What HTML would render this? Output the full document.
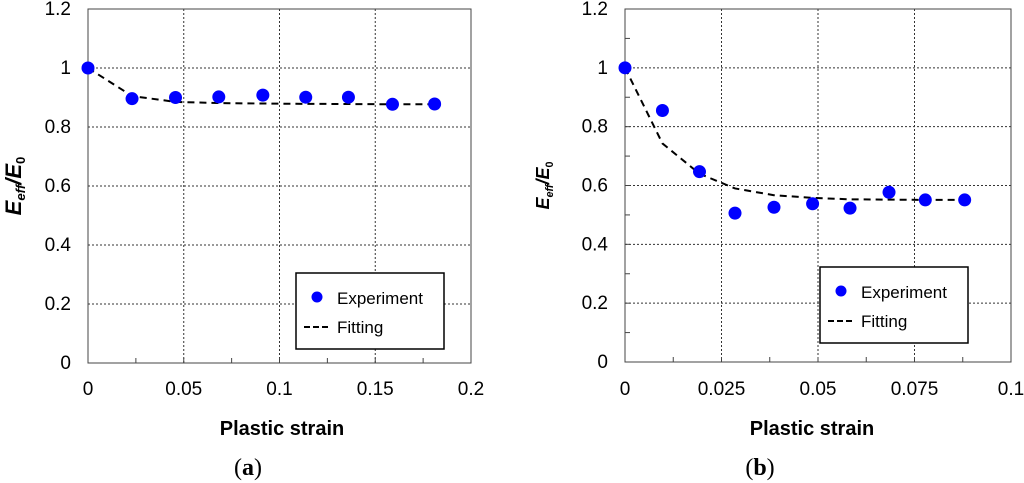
<!DOCTYPE html>
<html><head><meta charset="utf-8"><style>
body{margin:0;background:#fff;width:1024px;height:483px;overflow:hidden}
svg{display:block}
</style></head><body>
<svg id="chart" width="1024" height="483" xmlns="http://www.w3.org/2000/svg" font-family="Liberation Sans, Arial, sans-serif"></svg>
<script>
// Panel (a) data
const aExpX=[0,0.023,0.0457,0.0683,0.0913,0.1137,0.136,0.159,0.181];
const aExpY=[1.0,0.896,0.900,0.902,0.908,0.901,0.901,0.877,0.878];
const aFitX=[0,0.023,0.0457,0.07,0.1,0.13,0.16,0.181];
const aFitY=[1.0,0.905,0.885,0.881,0.879,0.878,0.877,0.877];
const aXTicks=["0","0.05","0.1","0.15","0.2"];
// Panel (b) data
const bExpX=[0,0.0097,0.0193,0.0285,0.0386,0.0486,0.0583,0.0684,0.0778,0.088];
const bExpY=[1.0,0.855,0.647,0.506,0.526,0.538,0.523,0.577,0.551,0.551];
const bFitX=[0,0.0097,0.0193,0.0285,0.0386,0.0486,0.0583,0.068,0.078,0.088];
const bFitY=[1.0,0.743,0.64,0.59,0.567,0.558,0.553,0.552,0.551,0.551];
const bXTicks=["0","0.025","0.05","0.075","0.1"];
const yTicks=["0","0.2","0.4","0.6","0.8","1","1.2"];

const NS="http://www.w3.org/2000/svg";
const svg=document.getElementById('chart');
function mk(tag,attrs,parent,text){const e=document.createElementNS(NS,tag);for(const k in attrs)e.setAttribute(k,attrs[k]);if(text!==undefined)e.textContent=text;(parent||svg).appendChild(e);return e;}

function panel(p){
  const g=mk('g',{});
  
  
  const sx=v=>p.x0+(p.x1-p.x0)*v/p.xmax;
  const sy=v=>p.y0-(p.y0-p.y1)*v/1.2;
  for(let i=1;i<yTicks.length;i++){const y=sy(i*0.2);
    const l=mk('line',{x1:p.x0,x2:p.x1,y1:y,y2:y,stroke:'#333','stroke-width':1,'stroke-dasharray':'2,2'},g);
    }
  for(let i=1;i<p.xt.length;i++){const x=sx(i*p.xmax/(p.xt.length-1));
    const l=mk('line',{x1:x,x2:x,y1:p.y1,y2:p.y0,stroke:'#333','stroke-width':1,'stroke-dasharray':'2,2'},g);
    }
  const fr=mk('rect',{x:p.x0,y:p.y1,width:p.x1-p.x0,height:p.y0-p.y1,fill:'none',stroke:'#444','stroke-width':1},g);
  
  const nMinor=(p.xt.length-1)*2;
  for(let i=1;i<nMinor;i++){const x=sx(i*p.xmax/nMinor);mk('line',{x1:x,x2:x,y1:p.y0,y2:p.y0-5,stroke:'#444'},g);}
  if(p.minorY){for(let i=0;i<12;i++){const y=sy(i*0.1+0.1);mk('line',{x1:p.x0,x2:p.x0+5,y1:y,y2:y,stroke:'#444'},g);}}
  yTicks.forEach((t,i)=>{const e=mk('text',{x:p.x0-17,y:sy(i*0.2)+6,'text-anchor':'end','font-size':19,fill:'#000'},g,t);
    });
  p.xt.forEach((t,i)=>{const e=mk('text',{x:sx(i*p.xmax/(p.xt.length-1)),y:395,'text-anchor':'middle','font-size':19,fill:'#000'},g,t);
    });
  const pts=p.fx.map((v,i)=>sx(v)+','+sy(p.fy[i])).join(' ');
  const pl=mk('polyline',{points:pts,fill:'none',stroke:'#000','stroke-width':2,'stroke-dasharray':'7,5'},g);
  
  p.ex.forEach((v,i)=>{const c=mk('circle',{cx:sx(v),cy:sy(p.ey[i]),r:6.5,fill:'#0000ff'},g);
    });
  const lg=mk('g',{},g);
  
  mk('rect',{x:p.lx,y:p.ly,width:148,height:76,fill:'#fff',stroke:'#000','stroke-width':1.5},lg);
  mk('circle',{cx:p.lx+21,cy:p.ly+24,r:5.5,fill:'#0000ff'},lg);
  mk('text',{x:p.lx+41,y:p.ly+31,'font-size':17},lg,'Experiment');
  mk('line',{x1:p.lx+8,x2:p.lx+34,y1:p.ly+54,y2:p.ly+54,stroke:'#000','stroke-width':2,'stroke-dasharray':'6,3'},lg);
  mk('text',{x:p.lx+41,y:p.ly+60,'font-size':17},lg,'Fitting');
  const yt=mk('text',{transform:`translate(${p.ytx},${(p.y0+p.y1)/2}) rotate(-90)`,'text-anchor':'middle','font-size':p.ytf,'font-weight':'bold','font-style':'italic'},g);
  
  yt.innerHTML=`E<tspan font-size="${p.ytf*0.6}" dy="4">eff</tspan><tspan dy="-4">/E</tspan><tspan font-size="${p.ytf*0.6}" dy="4" font-style="normal">0</tspan>`;
  const xt=mk('text',{x:p.xtx,y:435,'text-anchor':'middle','font-size':20,'font-weight':'bold'},g,'Plastic strain');
  
  const lab=mk('text',{x:p.labx,y:475,'text-anchor':'middle','font-size':24,'font-family':'Liberation Serif, serif'},g);
  
  lab.innerHTML=`(<tspan font-weight="bold">${p.lab}</tspan>)`;
}
panel({name:'panel-a',x0:88,x1:471,y0:363,y1:9,xmax:0.2,xt:aXTicks,ex:aExpX,ey:aExpY,fx:aFitX,fy:aFitY,lx:296,ly:273,ytx:21,ytf:22,xtx:282,labx:248,lab:'a',minorY:false});
panel({name:'panel-b',x0:625,x1:1011,y0:362,y1:9,xmax:0.1,xt:bXTicks,ex:bExpX,ey:bExpY,fx:bFitX,fy:bFitY,lx:820,ly:267,ytx:549,ytf:18,xtx:812,labx:760,lab:'b',minorY:true});
</script>
</body></html>
